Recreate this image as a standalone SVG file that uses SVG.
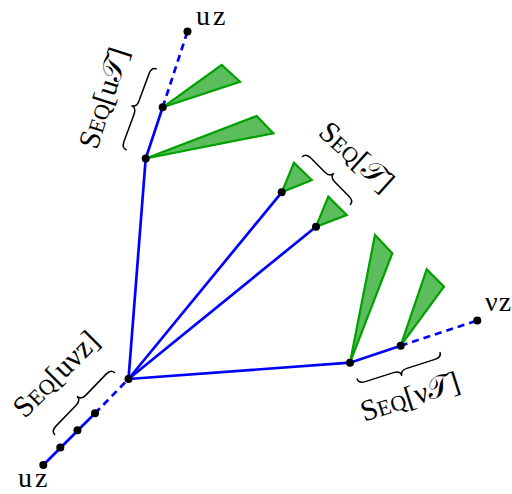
<svg xmlns="http://www.w3.org/2000/svg" width="512" height="494" viewBox="0 0 512 494">
<style>
.e{fill:none;stroke:#0000ff;stroke-width:2.7;stroke-linecap:butt}
.d{stroke-dasharray:7 5}
.t{fill:#5cbd5c;stroke:#00a000;stroke-width:2.2;stroke-linejoin:miter}
.n{fill:#000}
.b{fill:none;stroke:#000;stroke-width:1.5}
.lab{font-family:"Liberation Serif","DejaVu Serif","DejaVu Sans",serif;font-size:30px;fill:#000}
.sc{font-size:22px}
.v{font-family:"Liberation Serif","DejaVu Serif",serif;font-size:28px;letter-spacing:3px;fill:#000}
</style>
<rect width="512" height="494" fill="#fff"/>
<g id="connectors">
<path class="e" d="M128.5,379 L145.7,158.5 L162.7,107.3"/>
<path class="e d" d="M162.7,107.3 L187.5,31.5"/>
<path class="e" d="M128.5,379 L281.7,192.3"/>
<path class="e" d="M128.5,379 L316,226.7"/>
<path class="e" d="M128.5,379 L350,362.7 L400.7,345.7"/>
<path class="e d" d="M400.7,345.7 L477.3,320.5"/>
<path class="e" d="M43.3,465 L95,413.3"/>
<path class="e d" d="M95,413.3 L128.5,379"/>
</g>
<g id="triangles">
<polygon class="t" points="162.7,107.3 221.7,65 240,81.7"/>
<polygon class="t" points="145.7,158.5 256.7,116 273.3,133.3"/>
<polygon class="t" points="281.7,192.3 294,162.7 311.7,180"/>
<polygon class="t" points="316,226.7 328.3,196.7 346.7,215"/>
<polygon class="t" points="350,362.7 375,235 392.3,253.3"/>
<polygon class="t" points="400.7,345.7 426.7,269.3 444,286.7"/>
</g>
<g id="node-root"><circle class="n" cx="128.5" cy="379" r="4"/></g>
<g id="node-u1"><circle class="n" cx="145.7" cy="158.5" r="4"/></g>
<g id="node-u2"><circle class="n" cx="162.7" cy="107.3" r="4"/></g>
<g id="node-uz-top"><circle class="n" cx="187.5" cy="31.5" r="4"/><text class="v" x="196" y="25">uz</text></g>
<g id="node-t1"><circle class="n" cx="281.7" cy="192.3" r="4"/></g>
<g id="node-t2"><circle class="n" cx="316" cy="226.7" r="4"/></g>
<g id="node-v1"><circle class="n" cx="350" cy="362.7" r="4"/></g>
<g id="node-v2"><circle class="n" cx="400.7" cy="345.7" r="4"/></g>
<g id="node-vz"><circle class="n" cx="477.3" cy="320.5" r="4"/><text class="v" x="485" y="311" style="letter-spacing:1px">νz</text></g>
<g id="node-uz-bottom"><circle class="n" cx="43.3" cy="465" r="4"/><text class="v" x="18" y="487">uz</text></g>
<g id="node-p1"><circle class="n" cx="60.3" cy="447.5" r="4"/></g>
<g id="node-p2"><circle class="n" cx="77.5" cy="430.3" r="4"/></g>
<g id="node-p3"><circle class="n" cx="95" cy="413.3" r="4"/></g>
<g id="braces">
<path class="b" transform="translate(126.7,150) rotate(-69.7)" d="M0,0 Q0,-5.5 7,-5.5 L36.2,-5.5 Q43.2,-5.5 43.2,-11 Q43.2,-5.5 50.2,-5.5 L79.4,-5.5 Q86.4,-5.5 86.4,0"/>
<path class="b" transform="translate(302,157) rotate(45)" d="M0,0 Q0,-5.5 7,-5.5 L26.95,-5.5 Q33.95,-5.5 33.95,-11 Q33.95,-5.5 40.95,-5.5 L60.9,-5.5 Q67.9,-5.5 67.9,0"/>
<path class="b" transform="translate(55,435) rotate(-46)" d="M0,0 Q0,-5.5 7,-5.5 L36.15,-5.5 Q43.15,-5.5 43.15,-11 Q43.15,-5.5 50.15,-5.5 L79.3,-5.5 Q86.3,-5.5 86.3,0"/>
<path class="b" transform="translate(357,378.5) rotate(-17.7)" d="M0,0 Q0,5.5 7,5.5 L36.55,5.5 Q43.55,5.5 43.55,11 Q43.55,5.5 50.55,5.5 L80.1,5.5 Q87.1,5.5 87.1,0"/>
</g>
<g id="labels">
<text class="lab" text-anchor="middle" transform="translate(113,101) rotate(-72)">S<tspan class="sc">EQ</tspan>[u𝒯]</text>
<text class="lab" text-anchor="middle" transform="translate(350,164) rotate(42)">S<tspan class="sc">EQ</tspan>[𝒯]</text>
<text class="lab" text-anchor="middle" transform="translate(63,381) rotate(-45)">S<tspan class="sc">EQ</tspan>[uνz]</text>
<text class="lab" text-anchor="middle" transform="translate(413,406) rotate(-18)">S<tspan class="sc">EQ</tspan>[ν𝒯]</text>
</g>
</svg>
